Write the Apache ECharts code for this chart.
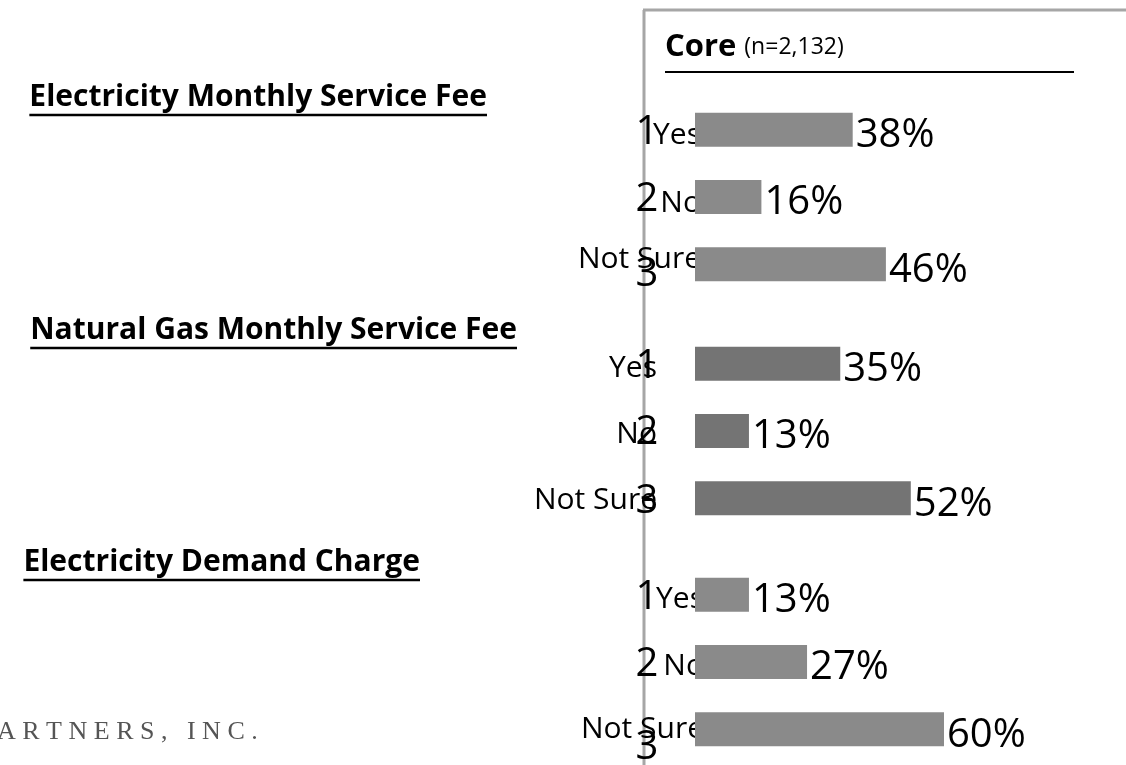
<!DOCTYPE html>
<html>
<head>
<meta charset="utf-8">
<script src="https://cdn.jsdelivr.net/npm/echarts@6/dist/echarts.min.js"></script>
<style>
  html, body { margin: 0; padding: 0; background: #fff; }
  #main { width: 1126px; height: 765px; }
</style>
</head>
<body>
<div id="main"></div>
<script>
// chart data
var titles = ['Electricity Monthly Service Fee', 'Natural Gas Monthly Service Fee', 'Electricity Demand Charge'];
var answers = ['Yes', 'No', 'Not Sure'];
var codes = ['1', '2', '3'];
var elecFee = [38, 16, 46];
var gasFee = [35, 13, 52];
var demandCharge = [13, 27, 60];
var panelTitle = 'Core';
var panelNote = '(n=2,132)';
var footer = 'A R T N E R S ,   I N C .';

var chart = echarts.init(document.getElementById('main'));
var font = 'Open Sans';

var grids = [
  { left: 695, top: 96, width: 415, height: 202, outerBoundsMode: 'none', containLabel: false },
  { left: 695, top: 330, width: 415, height: 202, outerBoundsMode: 'none', containLabel: false },
  { left: 695, top: 561, width: 415, height: 202, outerBoundsMode: 'none', containLabel: false }
];
var seriesData = [elecFee, gasFee, demandCharge];
var barColors = ['#8a8a8a', '#747474', '#8a8a8a'];
var wordMargin = [-6, 38, -9];
// label nudges (padding-top, text moves down by half)
var wordShift = [[12, 12, -10], [10, 6, 4], [10, 8, 0]];
var codeShift = [[6, 6, 20], [6, 4, 6], [6, 6, 36]];

function richSet(shifts, size) {
  var r = {};
  shifts.forEach(function (s, k) {
    r['r' + k] = {
      fontFamily: font, fontSize: size, color: '#000',
      padding: s >= 0 ? [s, 0, 0, 0] : [0, 0, -s, 0]
    };
  });
  return r;
}
function richFmt(v, idx) { return '{r' + idx + '|' + v + '}'; }

var xAxes = [], yAxes = [], series = [];
grids.forEach(function (g, i) {
  xAxes.push({ type: 'value', gridIndex: i, min: 0, max: 100, show: false });
  yAxes.push({
    type: 'category', gridIndex: i, position: 'left', offset: 0, inverse: true, data: answers,
    axisLine: { show: false }, axisTick: { show: false }, splitLine: { show: false },
    axisLabel: { margin: wordMargin[i], align: 'right', formatter: richFmt, rich: richSet(wordShift[i], 30) }
  });
  yAxes.push({
    type: 'category', gridIndex: i, position: 'left', offset: 0, inverse: true, data: codes,
    axisLine: { show: false }, axisTick: { show: false }, splitLine: { show: false },
    axisLabel: { margin: 48, align: 'center', formatter: richFmt, rich: richSet(codeShift[i], 40) }
  });
  series.push({
    type: 'bar', xAxisIndex: i, yAxisIndex: i * 2,
    data: seriesData[i], barWidth: 34,
    itemStyle: { color: barColors[i] },
    label: {
      show: true, position: 'right', distance: 3, offset: [0, 6],
      formatter: '{c}%', fontFamily: font, fontSize: 40, color: '#000'
    }
  });
});

var titleBase = [112, 345, 577];
var titleRight = [487, 517, 420];
var titleSize = 30;
var graphics = [
  { type: 'line', z: -5, shape: { x1: 644, y1: 10, x2: 644, y2: 765 }, style: { stroke: '#a6a6a6', lineWidth: 3 } },
  { type: 'line', z: -5, shape: { x1: 643, y1: 10, x2: 1126, y2: 10 }, style: { stroke: '#a6a6a6', lineWidth: 3 } },
  {
    type: 'text', x: 665, y: 63,
    style: {
      text: '{b|' + panelTitle + '}{n|' + panelNote + '}', verticalAlign: 'bottom',
      rich: {
        b: { fontFamily: font, fontWeight: 'bold', fontSize: 31, fill: '#000' },
        n: { fontFamily: font, fontSize: 23, fill: '#000', padding: [0, 0, 0, 8] }
      }
    }
  },
  { type: 'line', shape: { x1: 665, y1: 72, x2: 1074, y2: 72 }, style: { stroke: '#000', lineWidth: 2 } },
  { type: 'text', left: -3, top: 719, style: { text: footer, fontFamily: 'Liberation Serif', fontSize: 26, fill: '#555' } }
];
var ctx = document.createElement('canvas').getContext('2d');
ctx.font = 'bold ' + titleSize + 'px "' + font + '"';
titles.forEach(function (t, i) {
  graphics.push({
    type: 'text', x: titleRight[i], y: titleBase[i],
    style: { text: t, fontFamily: font, fontWeight: 'bold', fontSize: titleSize, fill: '#000', align: 'right', verticalAlign: 'bottom' }
  });
  var w = ctx.measureText(t).width;
  graphics.push({
    type: 'line',
    shape: { x1: titleRight[i] - w, y1: titleBase[i] + 3, x2: titleRight[i], y2: titleBase[i] + 3 },
    style: { stroke: '#000', lineWidth: 2.5 }
  });
});

chart.setOption({
  backgroundColor: '#fff',
  animation: false,
  grid: grids,
  xAxis: xAxes,
  yAxis: yAxes,
  series: series,
  graphic: graphics
});

window.onresize = function () { chart.resize(); };
</script>
</body>
</html>
